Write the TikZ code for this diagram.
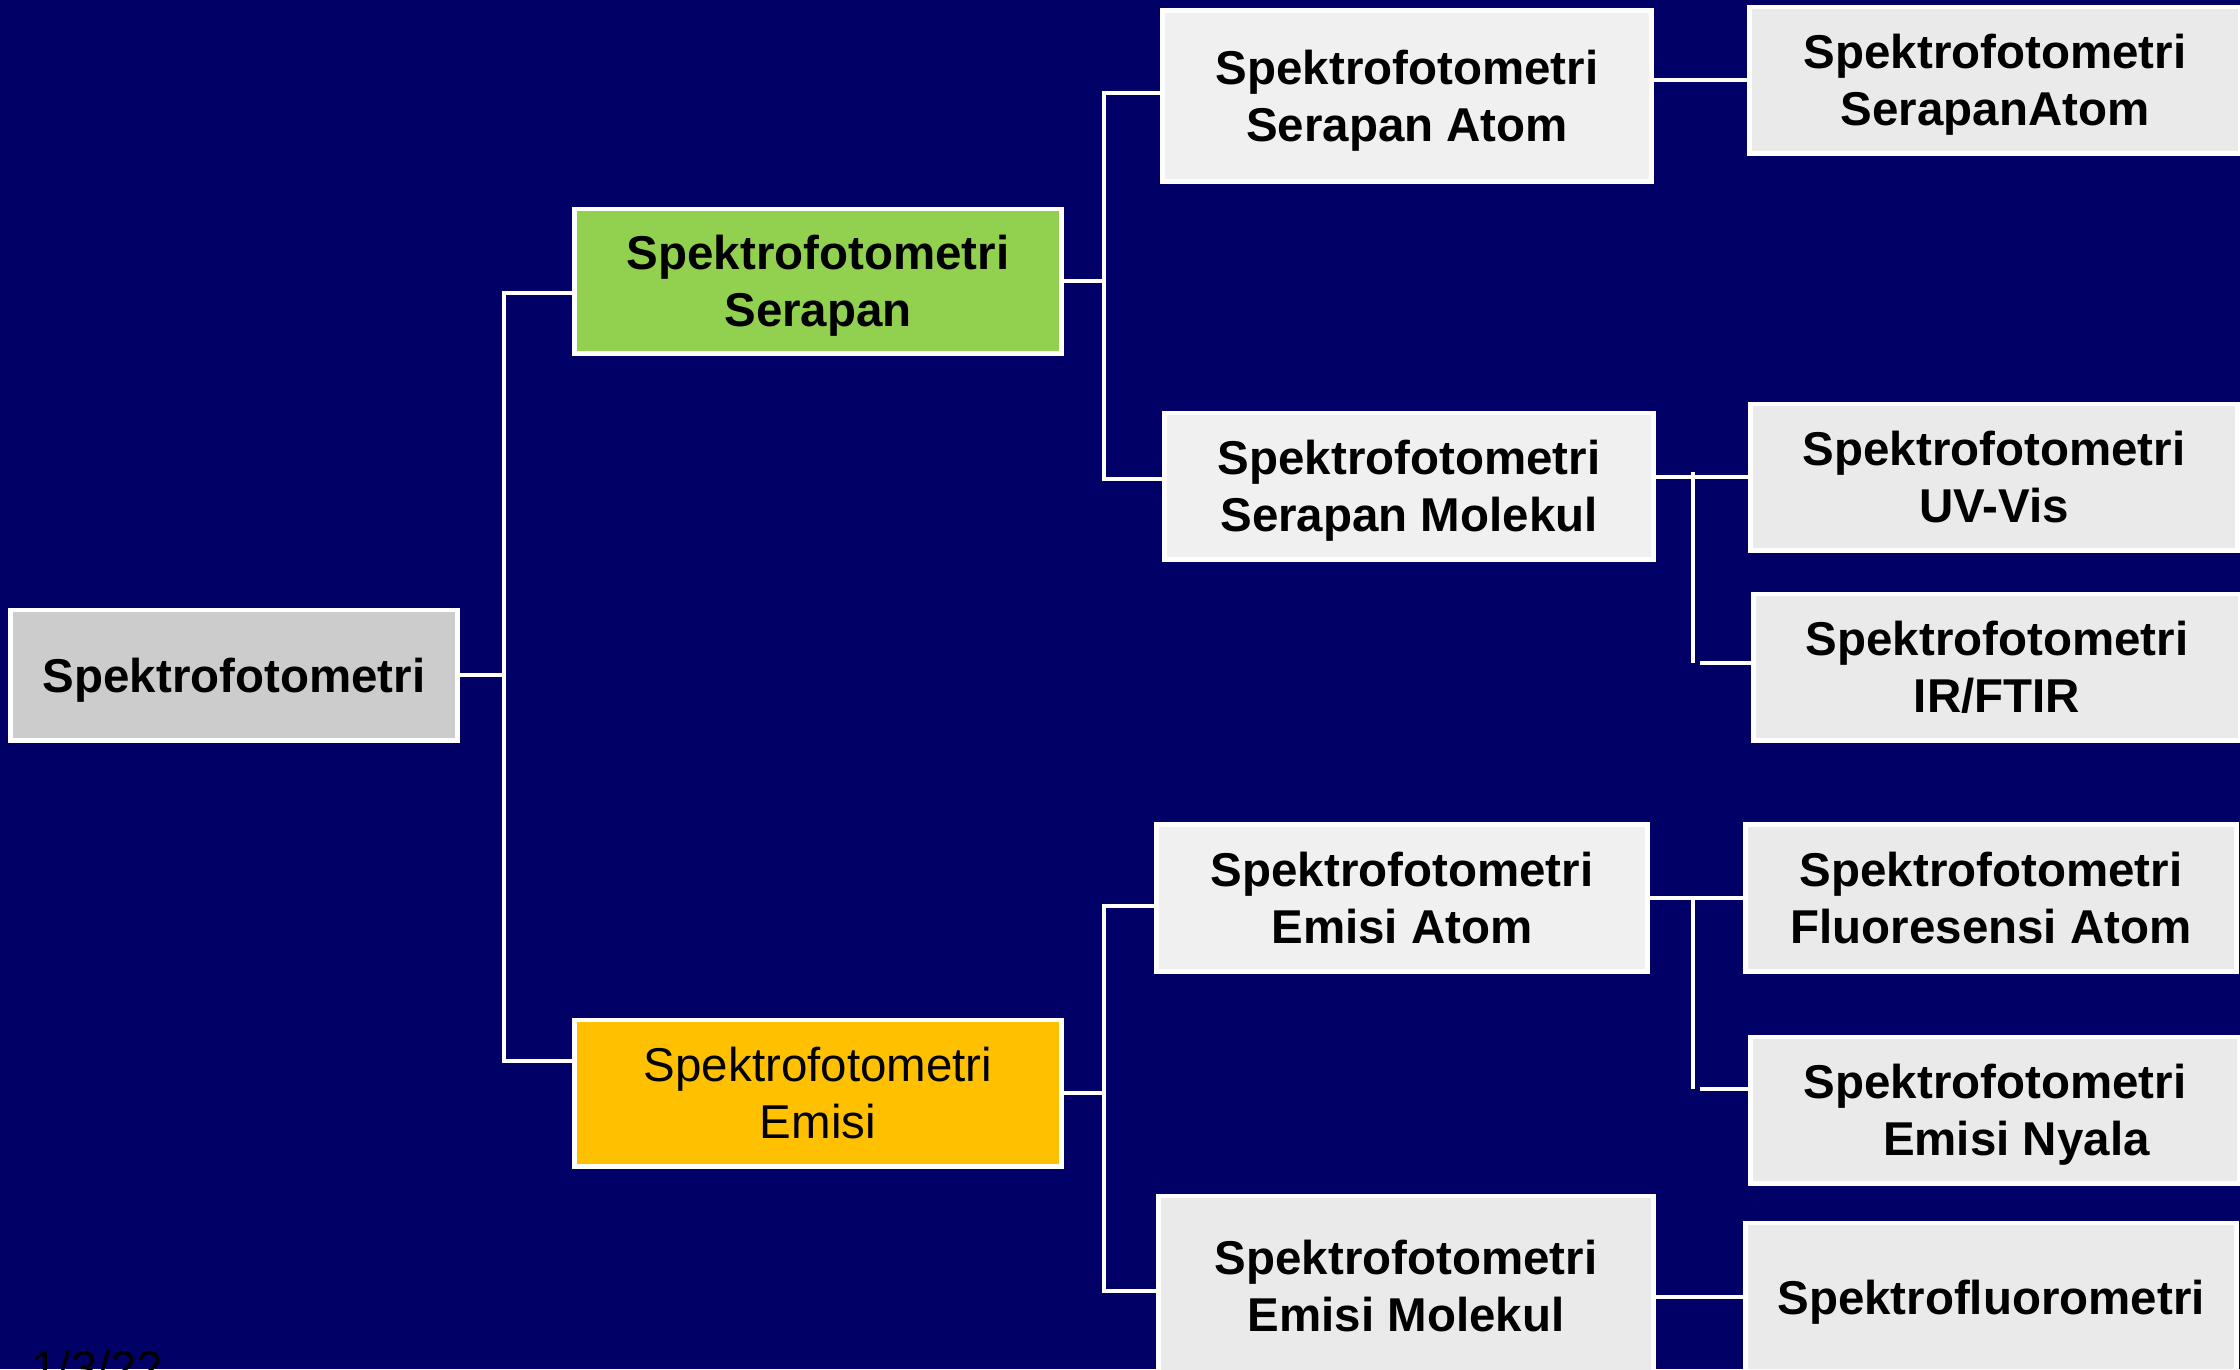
\documentclass[tikz,border=0pt]{standalone}
\usepackage{fontspec}
\setmainfont{Liberation Sans}
\definecolor{bg}{HTML}{000066}
\definecolor{rootfill}{HTML}{CCCCCC}
\definecolor{greenfill}{HTML}{92D050}
\definecolor{orangefill}{HTML}{FFC000}
\definecolor{boxA}{HTML}{F0F0F0}
\definecolor{boxB}{HTML}{EAEAEA}
\tikzset{
  box/.style={draw=white, line width=1.4pt, fill=boxB, align=center, inner sep=0pt,
    text depth=0pt, font=\fontsize{13.5}{16.2}\selectfont\bfseries, text=black},
  conn/.style={draw=white, line width=1.3pt},
}
\begin{document}
\begin{tikzpicture}[x=0.01cm,y=-0.01cm]
\fill[bg] (0,0) rectangle (2240,1369);
\useasboundingbox (0,0) rectangle (2240,1369);
\clip (0,0) rectangle (2240,1369);

% level 0
\node[box, fill=rootfill, minimum width=4.46cm, minimum height=1.30cm] (root) at (234,675) {Spektrofotometri};
% level 1
\node[box, fill=greenfill, minimum width=4.87cm, minimum height=1.44cm] (ser) at (818,281) {Spektrofotometri\\Serapan};
\node[box, fill=orangefill, font=\fontsize{13.5}{16.2}\selectfont, minimum width=4.87cm, minimum height=1.46cm] (emi) at (818,1093) {Spektrofotometri\\Emisi};
% level 2
\node[box, fill=boxA, minimum width=4.88cm, minimum height=1.70cm] (ssa) at (1407,96) {Spektrofotometri\\Serapan Atom};
\node[box, fill=boxA, minimum width=4.89cm, minimum height=1.46cm] (ssm) at (1409,486) {Spektrofotometri\\Serapan Molekul};
\node[box, fill=boxA, minimum width=4.90cm, minimum height=1.47cm] (sea) at (1402,898) {Spektrofotometri\\Emisi Atom};
\node[box, minimum width=4.95cm, minimum height=1.80cm] (sem) at (1406,1286) {Spektrofotometri\\Emisi Molekul};
% level 3
\node[box, minimum width=4.90cm, minimum height=1.46cm] (sa2) at (1995,80) {Spektrofotometri\\SerapanAtom};
\node[box, minimum width=4.87cm, minimum height=1.46cm] (uv) at (1994,477) {Spektrofotometri\\UV-Vis};
\node[box, minimum width=4.87cm, minimum height=1.46cm] (ir) at (1997,667) {Spektrofotometri\\IR/FTIR};
\node[box, minimum width=4.90cm, minimum height=1.47cm] (fa) at (1991,898) {Spektrofotometri\\Fluoresensi Atom};
\node[box, minimum width=4.89cm, minimum height=1.46cm] (en) at (1995,1110) {Spektrofotometri\\\hspace*{0.9em}Emisi Nyala};
\node[box, minimum width=4.90cm, minimum height=1.48cm] (sf) at (1991,1297) {Spektrofluorometri};

% connectors
\coordinate (ta) at (504,293); \coordinate (tb) at (504,1061);
\draw[conn] (root.east) -- (root.east -| ta);
\draw[conn] (ser.west |- ta) -- (ta) -- (tb) -- (emi.west |- tb);

\coordinate (sa) at (1104,93); \coordinate (sb) at (1104,479);
\draw[conn] (ser.east) -- (ser.east -| sa);
\draw[conn] (ssa.west |- sa) -- (sa) -- (sb) -- (ssm.west |- sb);

\coordinate (ea) at (1104,906); \coordinate (eb) at (1104,1291);
\draw[conn] (emi.east) -- (emi.east -| ea);
\draw[conn] (sea.west |- ea) -- (ea) -- (eb) -- (sem.west |- eb);

\draw[conn] (ssa.east |- sa2.west) -- (sa2.west);
\draw[conn] (ssm.east |- uv.west) -- (uv.west);
\coordinate (ua) at (1693,472); \coordinate (ub) at (1693,663);
\draw[conn] (ua) -- (ub);
\draw[conn] ([xshift=0.07cm]ub) -- (ir.west |- ub);

\draw[conn] (sea.east |- fa.west) -- (fa.west);
\coordinate (fa1) at (1693,898); \coordinate (fb1) at (1693,1089);
\draw[conn] (fa1) -- (fb1);
\draw[conn] ([xshift=0.07cm]fb1) -- (en.west |- fb1);

\draw[conn] (sem.east |- sf.west) -- (sf.west);

% date
\node[anchor=base west, font=\fontsize{13.4}{16}\selectfont, text=black, inner sep=0pt] (date) at (31,1384) {1/3/22};
\end{tikzpicture}
\end{document}
